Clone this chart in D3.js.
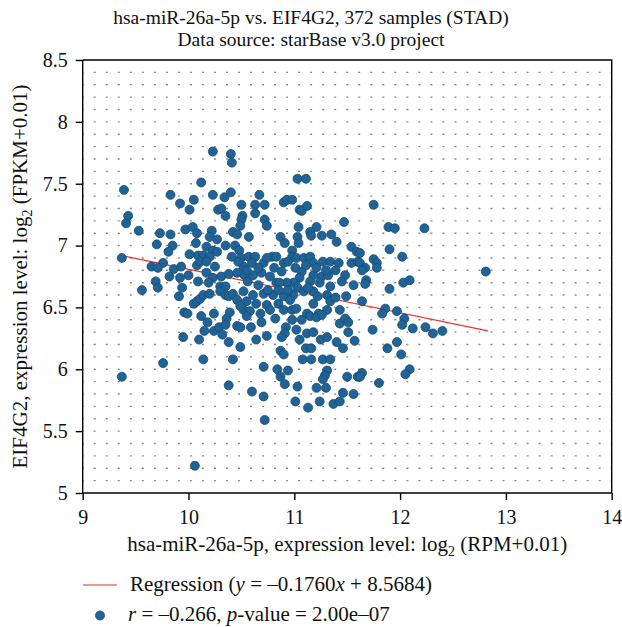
<!DOCTYPE html>
<html lang="en">
	<head>
		<meta charset="utf-8">
		<title>hsa-miR-26a-5p vs. EIF4G2</title>
		<script src="https://d3js.org/d3.v7.min.js"></script>
		<style type="text/css">
			body {
				margin: 0;
				background: #fff;
			}
			svg {
				font-family: "Liberation Serif", "Times New Roman", serif;
			}
			svg text {
				fill: #111;
			}
			.axis path,
			.axis line {
				fill: none;
				stroke: #000;
				stroke-width: 1.4;
			}
			.grid line {
				stroke: #8a8a8a;
				stroke-width: 1.4;
			}
			circle.dot {
				fill: #1f6397;
				stroke: #174b74;
				stroke-width: 0.8;
			}
		</style>
	</head>
	<body>
		<script type="text/javascript">
			//Width and height
			var w = 622;
			var h = 627;
			var plotLeft = 82.7, plotRight = 611.7, plotTop = 60, plotBottom = 493;
			var serif = "'Liberation Serif', 'Times New Roman', serif";

			//Sample values: miR expression (x), EIF4G2 expression (y)
			var mirExpr = [
				10.23,10.40,10.41,10.12,9.39,9.83,10.23,10.34,10.40,10.05,
				9.92,10.01,10.28,10.31,10.35,9.43,9.41,9.53,9.97,10.04,
				10.08,10.22,10.20,10.27,9.73,9.83,9.70,9.85,10.07,10.17,
				10.23,10.27,10.35,9.81,10.01,10.09,10.14,10.20,9.37,10.08,
				10.11,10.17,10.25,9.76,9.65,9.71,9.93,9.86,10.17,10.23,
				10.31,10.00,9.92,9.82,9.69,10.09,10.19,10.38,9.71,9.56,
				9.94,10.30,10.35,11.03,11.11,10.67,10.50,10.63,10.72,10.90,
				10.93,10.98,11.05,11.07,11.12,10.51,10.63,10.50,10.72,10.74,
				11.47,10.49,11.04,11.21,10.42,10.46,11.15,11.16,11.26,11.35,
				11.40,10.57,10.87,10.91,11.03,11.04,11.54,11.59,10.44,10.48,
				10.98,10.41,10.50,10.57,10.63,10.71,10.79,10.83,10.90,10.98,
				11.02,11.09,11.15,11.18,11.27,11.34,11.42,11.54,11.60,10.52,
				10.60,10.46,10.53,10.61,10.69,10.77,10.83,11.07,11.05,10.99,
				11.18,11.26,11.32,11.48,11.56,11.34,11.15,11.24,10.93,10.86,
				11.75,11.89,11.95,12.23,11.90,12.02,11.75,11.78,11.78,11.62,
				11.62,11.67,11.64,12.81,11.68,11.67,12.03,12.09,11.90,9.91,
				10.05,10.08,10.11,10.14,10.20,10.30,10.35,10.38,9.96,9.99,
				10.12,10.24,10.36,10.18,10.15,10.24,10.29,10.32,10.35,9.95,
				10.10,10.38,9.76,10.14,9.37,10.38,10.06,10.42,10.52,10.61,
				10.71,10.80,10.90,10.99,11.09,11.18,11.31,10.46,10.55,10.64,
				10.74,10.85,10.96,11.18,11.34,10.52,10.58,10.68,10.77,10.90,
				10.98,11.02,11.12,11.15,11.23,11.31,10.55,11.07,11.21,11.26,
				10.46,10.49,10.59,10.74,10.92,10.91,10.88,11.02,11.05,11.12,
				11.18,11.25,11.31,11.43,11.48,11.51,11.51,11.57,11.40,11.46,
				10.49,10.87,10.90,11.11,11.16,10.42,11.08,11.16,11.27,11.34,
				10.71,10.84,10.94,10.87,10.91,11.31,11.29,11.27,11.50,11.60,
				11.03,11.21,11.30,10.60,10.71,11.46,11.56,11.01,11.13,11.24,
				11.37,11.43,10.72,11.64,11.86,11.83,11.97,12.04,12.02,12.12,
				12.24,12.31,12.40,11.74,11.97,11.88,12.01,11.64,11.62,12.09,
				12.05,11.80,10.47,10.55,10.66,10.74,10.81,10.88,10.94,11.01,
				11.11,11.21,11.30,11.39,11.45,10.56,10.66,10.75,10.85,10.94,
				11.03,11.13,11.22,11.39,11.49,10.49,10.69,10.82,10.98,10.39,
				10.64,11.43
			];
			var eif4g2Expr = [
				7.76,7.74,7.67,7.51,7.45,7.41,7.41,7.39,7.43,7.37,
				7.34,7.29,7.29,7.30,7.24,7.24,7.18,7.12,7.13,7.15,
				7.10,7.12,7.07,7.05,7.10,7.09,7.01,7.00,7.02,6.99,
				6.96,6.95,7.00,6.95,6.93,6.92,6.92,6.91,6.90,6.84,
				6.87,6.87,6.83,6.86,6.83,6.82,6.83,6.81,6.78,6.74,
				6.75,6.76,6.74,6.75,6.71,6.71,6.70,6.77,6.66,6.64,
				6.66,6.67,6.67,7.54,7.54,7.41,7.33,7.33,7.33,7.35,
				7.37,7.37,7.29,7.28,7.32,7.24,7.26,7.21,7.21,7.16,
				7.19,7.16,7.15,7.15,7.11,7.09,7.11,7.08,7.08,7.09,
				7.03,7.07,7.07,7.02,7.07,7.02,6.99,6.95,7.00,6.96,
				6.96,6.91,6.90,6.91,6.91,6.86,6.91,6.91,6.86,6.91,
				6.90,6.90,6.91,6.86,6.87,6.87,6.86,6.86,6.87,6.83,
				6.86,6.78,6.76,6.76,6.78,6.75,6.70,6.79,6.74,6.70,
				6.76,6.75,6.76,6.76,6.68,6.67,6.71,6.70,6.70,6.70,
				7.33,7.15,7.14,7.14,6.97,6.91,6.89,6.86,6.82,6.94,
				6.86,6.82,6.80,6.79,6.72,6.69,6.70,6.72,6.65,6.59,
				6.53,6.55,6.57,6.60,6.61,6.63,6.60,6.59,6.46,6.45,
				6.43,6.45,6.41,6.38,6.31,6.31,6.34,6.28,6.36,6.26,
				6.24,6.22,6.05,6.08,5.94,5.87,5.22,6.61,6.63,6.60,
				6.61,6.60,6.59,6.60,6.63,6.63,6.60,6.56,6.55,6.53,
				6.52,6.53,6.56,6.53,6.55,6.48,6.47,6.45,6.48,6.48,
				6.48,6.49,6.45,6.43,6.45,6.48,6.43,6.40,6.42,6.44,
				6.35,6.34,6.34,6.27,6.34,6.29,6.26,6.32,6.24,6.29,
				6.30,6.24,6.26,6.37,6.41,6.38,6.30,6.23,6.22,6.17,
				6.18,6.15,6.12,6.17,6.17,6.08,6.08,6.08,6.08,6.08,
				6.02,6.00,5.99,5.94,5.88,5.99,5.95,5.92,5.94,5.94,
				5.86,5.85,5.85,5.82,5.78,5.81,5.80,5.74,5.69,5.74,
				5.72,5.74,5.59,6.55,6.49,6.45,6.47,6.41,6.36,6.33,
				6.34,6.29,6.31,6.32,6.22,6.17,6.12,5.97,5.94,6.00,
				5.96,5.89,6.87,6.80,6.82,6.90,6.82,6.79,6.87,6.82,
				6.84,6.82,6.80,6.80,6.71,6.71,6.68,6.64,6.64,6.64,
				6.66,6.66,6.59,6.58,6.59,6.51,6.38,6.41,6.40,6.46,
				6.24,6.48
			];

			//Ticks and regression fit
			var xTicks = [9, 10, 11, 12, 13, 14];
			var yTicks = [5, 5.5, 6, 6.5, 7, 7.5, 8, 8.5];
			var gridRows = d3.range(51, 85).map(function(d) { return d / 10; });
			var slope = -0.1760;
			var intercept = 8.5684;

			var dataset = mirExpr.map(function(x, i) { return [x, eif4g2Expr[i]]; });

			//Create scale functions
			var xScale = d3.scaleLinear()
								.domain([9, 14])
								.range([plotLeft, plotRight]);
			var yScale = d3.scaleLinear()
								.domain([5, 8.5])
								.range([plotBottom, plotTop]);

			//Create SVG element
			var svg = d3.select("body")
						.append("svg")
						.attr("width", w)
						.attr("height", h)
						.attr("font-family", serif);

			//Title
			var title = svg.append("g")
				.attr("text-anchor", "middle")
				.attr("font-family", serif)
				.attr("font-size", 19.5);
			title.append("text").attr("x", 311).attr("y", 24)
				.text("hsa-miR-26a-5p vs. EIF4G2, 372 samples (STAD)");
			title.append("text").attr("x", 311).attr("y", 46)
				.text("Data source: starBase v3.0 project");

			//Dotted grid
			var period = (plotRight - plotLeft) / 44;
			svg.append("g")
				.attr("class", "grid")
				.selectAll("line")
				.data(gridRows)
				.enter()
				.append("line")
				.attr("x1", plotLeft)
				.attr("x2", plotRight)
				.attr("y1", function(d) { return yScale(d); })
				.attr("y2", function(d) { return yScale(d); })
				.attr("stroke-dasharray", "2," + (period - 2))
				.attr("stroke-dashoffset", 1);

			//Frame top and right
			svg.append("path")
				.attr("d", "M" + plotLeft + "," + plotTop + "H" + plotRight + "V" + plotBottom)
				.attr("fill", "none")
				.attr("stroke", "#000")
				.attr("stroke-width", 1.4);

			//Regression line
			var xExt = d3.extent(mirExpr);
			svg.append("line")
				.attr("x1", xScale(xExt[0]))
				.attr("y1", yScale(slope * xExt[0] + intercept))
				.attr("x2", xScale(xExt[1] + 0.02))
				.attr("y2", yScale(slope * (xExt[1] + 0.02) + intercept))
				.attr("stroke", "#e5332a")
				.attr("stroke-width", 1.2);

			//Create circles
			svg.append("g")
				.selectAll("circle")
				.data(dataset)
				.enter()
				.append("circle")
				.attr("class", "dot")
				.attr("cx", function(d) { return xScale(d[0]); })
				.attr("cy", function(d) { return yScale(d[1]); })
				.attr("r", 4.5);

			//Axes
			var xAxis = d3.axisBottom(xScale)
				.tickValues(xTicks)
				.tickSize(7)
				.tickPadding(10)
				.tickFormat(d3.format("d"));
			var yAxis = d3.axisLeft(yScale)
				.tickValues(yTicks)
				.tickSize(7)
				.tickPadding(8)
				.tickFormat(function(d) { return String(d); });

			svg.append("g")
				.attr("class", "x axis")
				.attr("transform", "translate(0," + plotBottom + ")")
				.call(xAxis)
				.attr("font-family", serif)
				.attr("font-size", 20)
				.call(function(g) { g.select(".domain").attr("d", "M" + plotLeft + ",0H" + plotRight); });

			svg.append("g")
				.attr("class", "y axis")
				.attr("transform", "translate(" + plotLeft + ",0)")
				.call(yAxis)
				.attr("font-family", serif)
				.attr("font-size", 20)
				.call(function(g) { g.select(".domain").attr("d", "M0," + plotTop + "V" + plotBottom); });

			//Axis labels
			var xLabel = svg.append("text")
				.attr("x", (plotLeft + plotRight) / 2)
				.attr("y", 551)
				.attr("text-anchor", "middle")
				.attr("font-family", serif)
				.attr("font-size", 21);
			xLabel.append("tspan").text("hsa-miR-26a-5p, expression level: log");
			xLabel.append("tspan").attr("dy", 5).attr("font-size", 14).text("2");
			xLabel.append("tspan").attr("dy", -5).text(" (RPM+0.01)");

			var yLabel = svg.append("text")
				.attr("transform", "translate(27," + ((plotTop + plotBottom) / 2) + ") rotate(-90)")
				.attr("text-anchor", "middle")
				.attr("font-family", serif)
				.attr("font-size", 21);
			yLabel.append("tspan").text("EIF4G2, expression level: log");
			yLabel.append("tspan").attr("dy", 5).attr("font-size", 14).text("2");
			yLabel.append("tspan").attr("dy", -5).text(" (FPKM+0.01)");

			//Legend
			var legend = svg.append("g")
				.attr("font-family", serif)
				.attr("font-size", 21);
			legend.append("line")
				.attr("x1", 83).attr("x2", 117)
				.attr("y1", 585).attr("y2", 585)
				.attr("stroke", "#e5332a")
				.attr("stroke-width", 1.2);
			var reg = legend.append("text").attr("x", 130).attr("y", 591);
			reg.append("tspan").text("Regression (");
			reg.append("tspan").attr("font-style", "italic").text("y");
			reg.append("tspan").text(" = \u20130.1760");
			reg.append("tspan").attr("font-style", "italic").text("x");
			reg.append("tspan").text(" + 8.5684)");

			legend.append("circle")
				.attr("class", "dot")
				.attr("cx", 100).attr("cy", 615.5)
				.attr("r", 4.5);
			var stat = legend.append("text").attr("x", 128).attr("y", 621);
			stat.append("tspan").attr("font-style", "italic").text("r");
			stat.append("tspan").text(" = \u20130.266, ");
			stat.append("tspan").attr("font-style", "italic").text("p");
			stat.append("tspan").text("-value = 2.00e\u201307");
		</script>
	</body>
</html>
